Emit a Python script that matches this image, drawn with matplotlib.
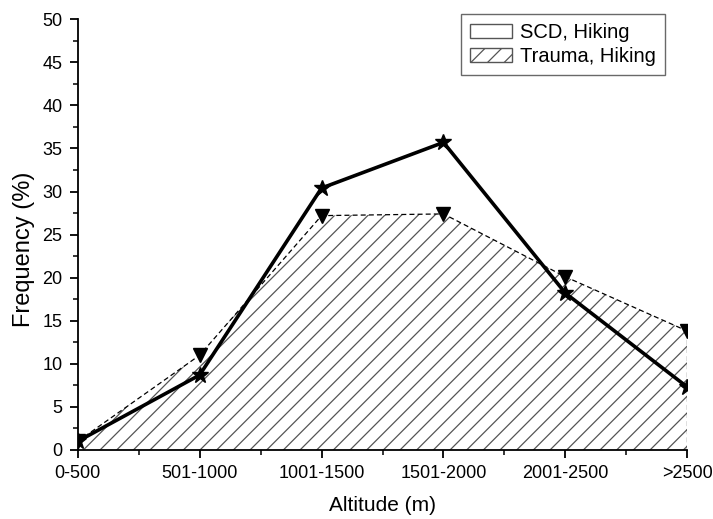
import matplotlib.pyplot as plt
import matplotlib.patches as mpatches
from matplotlib.ticker import MultipleLocator
import numpy as np

plt.rcParams['font.family'] = ['Liberation Sans', 'DejaVu Sans']
plt.rcParams['hatch.linewidth'] = 0.9
plt.rcParams['hatch.color'] = '#555555'

# altitude bands and frequency (%) per band
altitudes = ['0-500', '501-1000', '1001-1500', '1501-2000', '2001-2500', '>2500']
scd = [1.0, 8.7, 30.4, 35.7, 18.2, 7.3]
trauma = [1.0, 11.0, 27.2, 27.4, 20.1, 13.8]

x = np.arange(len(altitudes))

fig = plt.figure(figsize=(7.13, 5.19), dpi=100)
ax = fig.add_axes([0.109, 0.133, 0.855, 0.830])

# hatched trauma area with dashed outline
ax.fill_between(x, 0, trauma, facecolor='white', edgecolor='#555555',
                hatch='//', linewidth=0, zorder=1)
ax.plot(x, trauma, color='black', linestyle=(0, (4, 2.5)), linewidth=0.9,
        marker='v', markersize=10, zorder=2)
ax.plot([x[-1], x[-1]], [0, trauma[-1]], color='black',
        linestyle=(0, (4, 2.5)), linewidth=0.9, zorder=2)

# SCD line
ax.plot(x, scd, color='black', linewidth=2.6, marker='*', markersize=12,
        zorder=3)

ax.set_xlim(0, len(altitudes) - 1)
ax.set_ylim(0, 50)
ax.set_xticks(x)
ax.set_xticklabels(altitudes)
ax.xaxis.set_minor_locator(MultipleLocator(0.5))
ax.yaxis.set_major_locator(MultipleLocator(5))
ax.yaxis.set_minor_locator(MultipleLocator(2.5))

for side in ['top', 'right']:
    ax.spines[side].set_visible(False)
for side in ['left', 'bottom']:
    ax.spines[side].set_linewidth(1.3)

ax.tick_params(which='major', direction='out', length=6, width=1.3,
               labelsize=13, colors='black', pad=5)
ax.tick_params(which='minor', direction='out', length=3.5, width=1.1)

ax.set_xlabel('Altitude (m)', fontsize=15, labelpad=10)
ax.set_ylabel('Frequency (%)', fontsize=17)
ax.yaxis.set_label_coords(-0.07, 0.466)

handles = [
    mpatches.Patch(facecolor='white', edgecolor='#555555', label='SCD, Hiking'),
    mpatches.Patch(facecolor='white', edgecolor='#555555', hatch='//',
                   label='Trauma, Hiking'),
]
leg = ax.legend(handles=handles, loc='upper right',
                bbox_to_anchor=(665 / 713, 1 - 14 / 519),
                bbox_transform=fig.transFigure, borderaxespad=0,
                fontsize=14.5, frameon=True, fancybox=False,
                handlelength=2.1, handleheight=0.75, handletextpad=0.4,
                borderpad=0.45, labelspacing=0.25)
leg.get_frame().set_edgecolor('#444444')
leg.get_frame().set_linewidth(1.0)

fig.savefig('out.png', dpi=100)
